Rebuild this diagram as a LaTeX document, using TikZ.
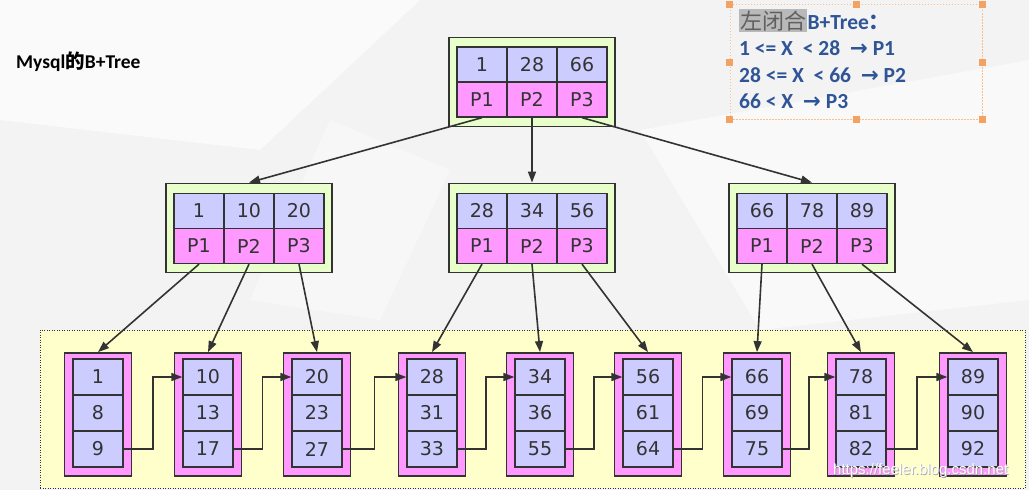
\documentclass[tikz,border=0pt]{standalone}
\usepackage{fontspec}
\setmainfont{DejaVu Sans}
\newfontfamily\calfont{Carlito}
\newfontfamily\cjkfont{Noto Sans CJK SC}
\newfontfamily\symfont{DejaVu Sans}
\newfontfamily\urlfont{Liberation Sans}
\usetikzlibrary{arrows.meta,calc}
\definecolor{cellblue}{HTML}{CCCCFF}
\definecolor{cellpink}{HTML}{FF99FF}
\definecolor{boxgreen}{HTML}{E8FFCC}
\definecolor{clusteryellow}{HTML}{FFFFCC}
\definecolor{ink}{HTML}{333333}
\definecolor{legendblue}{HTML}{2F5597}
\definecolor{handle}{HTML}{F4A261}
\definecolor{bgcol}{HTML}{F3F3F3}
\begin{document}
\begin{tikzpicture}[x=1pt,y=-1pt,
 cell/.style={draw=ink, line width=1.3pt, minimum width=50pt, minimum height=35pt, inner sep=0pt, text=ink, font=\fontsize{19}{22}\selectfont},
 keycell/.style={cell, fill=cellblue},
 ptrcell/.style={cell, fill=cellpink},
 leafcell/.style={cell, fill=cellblue, minimum height=36pt},
 innerbox/.style={draw=ink, line width=1.8pt, fill=boxgreen, minimum width=166pt, minimum height=89pt, inner sep=0pt},
 leafbox/.style={draw=ink, line width=1.8pt, fill=cellpink, minimum width=67pt, minimum height=123pt, inner sep=0pt},
 edge/.style={draw=ink, line width=1.6pt, -{Triangle[length=11pt,width=8pt]}},
 handlebox/.style={fill=handle, minimum size=7pt, inner sep=0pt},
 legendtxt/.style={anchor=base west, inner sep=0pt, text=legendblue, font=\calfont\bfseries\fontsize{21.5}{24}\selectfont},
]
% background
\fill[bgcol] (0,0) rectangle (1029,490);
\useasboundingbox (0,0) rectangle (1029,490);
\fill[white,opacity=0.6] (0,0) -- (420,0) -- (260,150) -- (0,120) -- cycle;
\fill[white,opacity=0.5] (640,130) -- (1029,60) -- (1029,300) -- (760,330) -- cycle;
\fill[white,opacity=0.4] (330,120) -- (450,170) -- (380,320) -- (250,300) -- cycle;

% title
\node[anchor=west, inner sep=0pt, text=black, font=\calfont\bfseries\fontsize{19.5}{22}\selectfont] (title) at (16,62) {Mysql{\cjkfont\bfseries 的}B+Tree};

% leaf cluster
\node[draw=ink, line width=1pt, dash pattern=on 1pt off 1.5pt, fill=clusteryellow, minimum width=985pt, minimum height=158pt, inner sep=0pt] (cluster) at (532.5,409) {};

% root
\node[innerbox] (r) at (532,82) {};
\node[keycell] (rk1) at (482,64.5) {1};
\node[keycell] (rk2) at (532,64.5) {28};
\node[keycell] (rk3) at (582,64.5) {66};
\node[ptrcell] (rp1) at (482,99.5) {P1};
\node[ptrcell] (rp2) at (532,99.5) {P2};
\node[ptrcell] (rp3) at (582,99.5) {P3};

% level 2
\foreach \n/\x/\ka/\kb/\kc in {a/249/1/10/20, b/532/28/34/56, c/812/66/78/89}{
  \node[innerbox] (\n) at (\x,228) {};
  \node[keycell] (\n k1) at (\x-50,211) {\ka};
  \node[keycell] (\n k2) at (\x,211) {\kb};
  \node[keycell] (\n k3) at (\x+50,211) {\kc};
  \node[ptrcell] (\n p1) at (\x-50,246) {P1};
  \node[ptrcell] (\n p2) at (\x,246) {P2};
  \node[ptrcell] (\n p3) at (\x+50,246) {P3};
}

% leaves
\foreach \i/\x/\va/\vb/\vc in {1/98/1/8/9, 2/208/10/13/17, 3/317/20/23/27, 4/432/28/31/33, 5/540/34/36/55, 6/648/56/61/64, 7/757/66/69/75, 8/861/78/81/82, 9/973/89/90/92}{
  \node[leafbox] (L\i) at (\x,414.5) {};
  \node[leafcell] (L\i-a) at (\x,377) {\va};
  \node[leafcell] (L\i-b) at (\x,413) {\vb};
  \node[leafcell] (L\i-c) at (\x,449) {\vc};
}

% root -> level 2
\draw[edge] (rp1.south) -- (a.north);
\draw[edge] (rp2.south) -- (b.north);
\draw[edge] (rp3.south) -- (c.north);

% level 2 -> leaves
\draw[edge] (ap1.south) -- (L1.north);
\draw[edge] (ap2.south) -- (L2.north);
\draw[edge] (ap3.south) -- (L3.north);
\draw[edge] (bp1.south) -- (L4.north);
\draw[edge] (bp2.south) -- (L5.north);
\draw[edge] (bp3.south) -- (L6.north);
\draw[edge] (cp1.south) -- (L7.north);
\draw[edge] (cp2.south) -- (L8.north);
\draw[edge] (cp3.south) -- (L9.north);

% leaf links
\foreach \i/\j in {1/2,2/3,3/4,4/5,5/6,6/7,7/8,8/9}{
  \draw[edge] (L\i-c.east) -| ($(L\i-c.east)!.5!(L\j-a.west)$) |- (L\j-a.west);
}

% legend selection box
\node[draw=handle!70, line width=0.8pt, dash pattern=on 1.5pt off 1.5pt, minimum width=252pt, minimum height=115pt, inner sep=0pt] (legend) at (856,62) {};
\foreach \a in {north west,north,north east,east,south east,south,south west,west}{
  \node[handlebox] at (legend.\a) {};
}
\node[anchor=base west, fill=gray!55, text=gray!75!black, inner sep=1pt, font=\cjkfont\fontsize{22}{25}\selectfont] (hl) at (739,29) {左闭合};
\node[legendtxt] (l1) at (hl.base east) {B+Tree{\cjkfont\bfseries ：}};
\node[legendtxt] (l2) at (739,55) {1 <= X\ \ < 28\ \ {\symfont\bfseries →} P1};
\node[legendtxt] (l3) at (739,82) {28 <= X\ \ < 66\ \ {\symfont\bfseries →} P2};
\node[legendtxt] (l4) at (739,108) {66 < X\ \ {\symfont\bfseries →} P3};

% watermark
\node[anchor=west, inner sep=0pt, text=gray!70, font=\urlfont\fontsize{15}{18}\selectfont] (wmshadow) at (833.8,471.8) {https://feeler.blog.csdn.net};
\node[anchor=west, inner sep=0pt, text=white, font=\urlfont\fontsize{15}{18}\selectfont] (wm) at (833,471) {https://feeler.blog.csdn.net};
\end{tikzpicture}
\end{document}
